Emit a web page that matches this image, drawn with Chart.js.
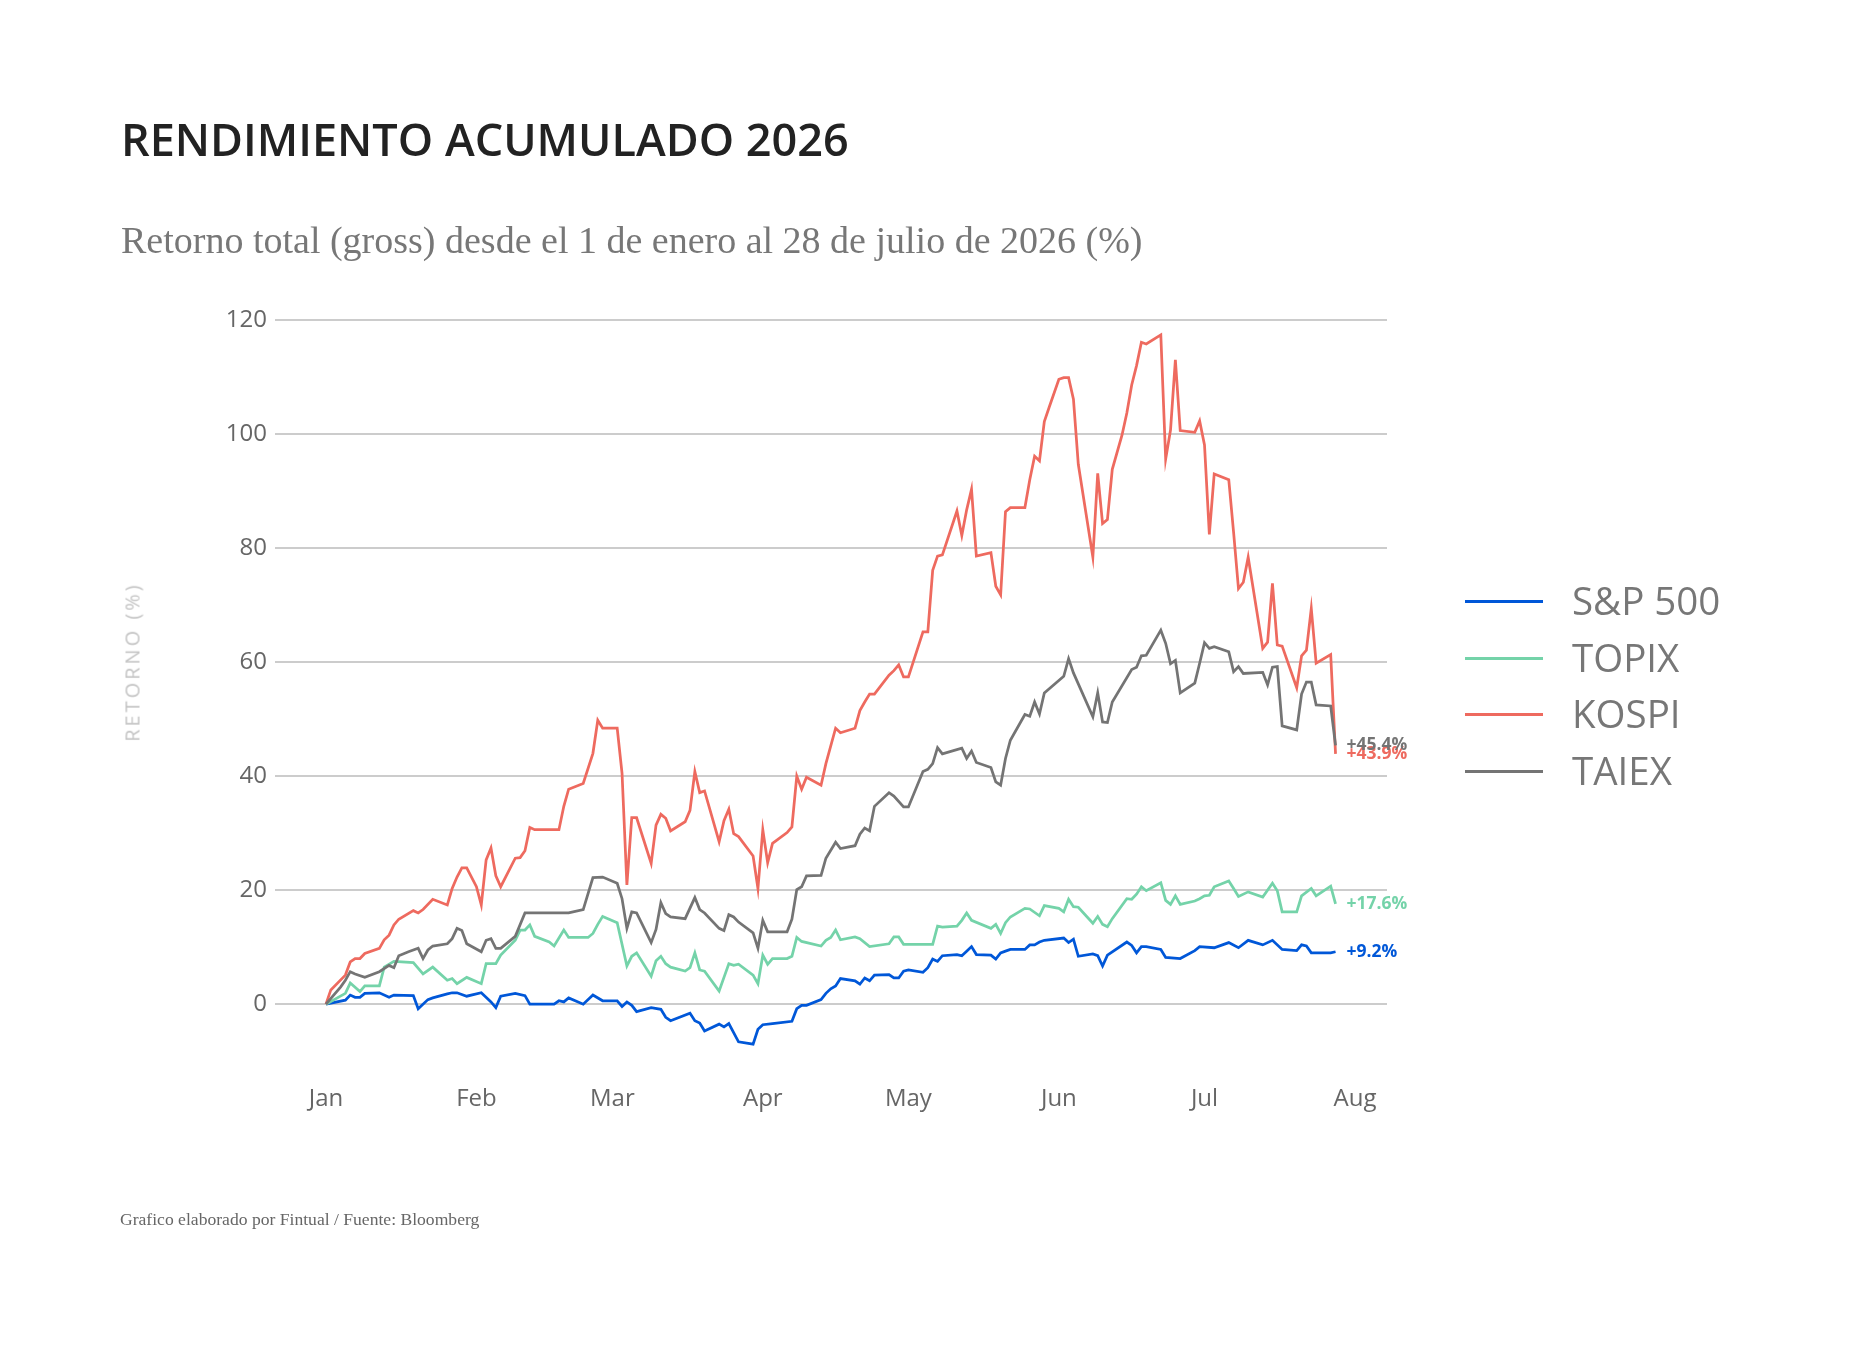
<!DOCTYPE html>
<html lang="es">
<head>
<meta charset="utf-8">
<title>Rendimiento acumulado 2026</title>
<script src="https://cdn.jsdelivr.net/npm/chart.js@4.4.1/dist/chart.umd.min.js"></script>
<style>
    html, body { margin: 0; padding: 0; background: #fff; }
    #page { position: relative; width: 1860px; height: 1349px; overflow: hidden; }
    #chart { position: absolute; left: 0; top: 0; }
    .txt { position: absolute; white-space: nowrap; line-height: 1; }
    #title { left: 121px; top: 108px; font: 600 45px "Open Sans", sans-serif; color: #222; }
    #subtitle { left: 121px; top: 218px; font: 400 38px "Liberation Serif", serif; color: #777; }
    #source { left: 120px; top: 1209px; font: 400 17.6px "Liberation Serif", serif; color: #666; }
    #ytitle {
        left: 132px; top: 662px; font: 400 20px "Open Sans", sans-serif; color: #c4c4c4;
        letter-spacing: 3px; transform: translate( -50%, -50% ) rotate( -90deg );
    }
    #legend { position: absolute; left: 1465px; top: 0; }
    .item { position: absolute; left: 0; width: 400px; height: 0; }
    .item i { position: absolute; left: 0; top: -1.5px; width: 78px; height: 3px; }
    .item span { position: absolute; left: 107px; top: -20px; font: 400 38.5px "Open Sans", sans-serif; color: #777; line-height: 1; white-space: nowrap; }
</style>
</head>
<body>
<div id="page">
    <canvas id="chart" width="1860" height="1349"></canvas>
    <div id="title" class="txt">RENDIMIENTO ACUMULADO 2026</div>
    <div id="subtitle" class="txt">Retorno total (gross) desde el 1 de enero al 28 de julio de 2026 (%)</div>
    <div id="ytitle" class="txt">RETORNO (%)</div>
    <div id="source" class="txt">Grafico elaborado por Fintual / Fuente: Bloomberg</div>
    <div id="legend"></div>
</div>
<script>

// Days since 1 Jan 2026 for each reading, and the cumulative return (%)

const spxDays = [
    0, 4, 5, 6, 7, 8, 11, 13, 14, 18,
    19, 21, 22, 25, 26, 27, 29, 32, 34, 35,
    36, 39, 41, 42, 47, 48, 49, 50, 53, 55,
    57, 60, 61, 62, 63, 64, 67, 69, 70, 71,
    75, 76, 77, 78, 81, 82, 83, 85, 88, 89,
    90, 92, 96, 97, 98, 99, 102, 103, 104, 105,
    106, 109, 110, 111, 112, 113, 116, 117, 118, 119,
    120, 123, 124, 125, 126, 127, 130, 131, 132, 133,
    134, 137, 138, 139, 140, 141, 144, 145, 146, 147,
    148, 152, 153, 154, 155, 158, 159, 160, 161, 165,
    166, 167, 168, 169, 172, 173, 176, 179, 180, 183,
    186, 188, 190, 193, 195, 197, 200, 201, 202, 203,
    207, 208
];
const spxValues = [
    0, 0.7, 1.6, 1.2, 1.2, 1.9, 2.0, 1.2, 1.6, 1.5,
    -0.8, 0.8, 1.1, 1.8, 2.0, 2.0, 1.4, 2.0, 0.4, -0.6,
    1.4, 1.9, 1.5, 0, 0, 0.6, 0.4, 1.1, 0, 1.6,
    0.6, 0.6, -0.4, 0.4, -0.2, -1.3, -0.6, -0.9, -2.3, -2.9,
    -1.6, -2.9, -3.3, -4.7, -3.5, -4.0, -3.4, -6.6, -7.0, -4.4,
    -3.6, -3.4, -3.0, -0.8, -0.2, -0.2, 0.8, 1.9, 2.7, 3.2,
    4.5, 4.1, 3.5, 4.6, 4.1, 5.1, 5.2, 4.6, 4.6, 5.8,
    6.0, 5.6, 6.4, 7.9, 7.5, 8.5, 8.7, 8.5, 9.3, 10.1,
    8.7, 8.6, 7.9, 9.0, 9.3, 9.6, 9.6, 10.4, 10.4, 10.9,
    11.2, 11.6, 10.8, 11.4, 8.4, 8.8, 8.5, 6.7, 8.6, 10.9,
    10.3, 9.0, 10.1, 10.1, 9.6, 8.2, 8.0, 9.4, 10.1, 9.9,
    10.8, 9.9, 11.2, 10.4, 11.2, 9.6, 9.4, 10.4, 10.2, 9.0,
    9.0, 9.2
];

const topixDays = [
    0, 4, 5, 7, 8, 11, 12, 14, 18, 20,
    22, 25, 26, 27, 29, 32, 33, 35, 36, 39,
    40, 41, 42, 43, 46, 47, 49, 50, 54, 55,
    56, 57, 60, 62, 63, 64, 67, 68, 69, 70,
    71, 74, 75, 76, 77, 78, 81, 82, 83, 84,
    85, 88, 89, 90, 91, 92, 95, 96, 97, 98,
    102, 103, 104, 105, 106, 109, 110, 112, 116, 117,
    118, 119, 125, 126, 127, 130, 131, 132, 133, 137,
    138, 139, 140, 141, 144, 145, 147, 148, 151, 152,
    153, 154, 155, 158, 159, 160, 161, 162, 165, 166,
    167, 168, 169, 172, 173, 174, 175, 176, 179, 180,
    181, 182, 183, 186, 187, 188, 190, 193, 195, 196,
    197, 200, 201, 203, 204, 207, 208
];
const topixValues = [
    0, 1.9, 3.7, 2.2, 3.2, 3.2, 6.5, 7.5, 7.3, 5.3,
    6.5, 4.2, 4.5, 3.6, 4.7, 3.6, 7.1, 7.1, 8.6, 11.2,
    13.0, 13.0, 13.9, 11.9, 10.9, 10.2, 13.0, 11.7, 11.7, 12.4,
    14.0, 15.4, 14.3, 6.7, 8.4, 9.0, 4.9, 7.6, 8.4, 7.1,
    6.5, 5.8, 6.4, 9.0, 6.0, 5.8, 2.3, 4.7, 7.1, 6.8,
    7.0, 5.1, 3.6, 8.6, 7.0, 8.0, 8.0, 8.4, 11.7, 11.0,
    10.2, 11.2, 11.7, 13.0, 11.3, 11.8, 11.5, 10.1, 10.6, 11.8,
    11.8, 10.5, 10.5, 13.7, 13.5, 13.7, 14.7, 16.0, 14.7, 13.3,
    14.0, 12.4, 14.3, 15.3, 16.8, 16.7, 15.5, 17.3, 16.8, 16.2,
    18.4, 17.1, 17.0, 14.2, 15.4, 14.0, 13.6, 15.0, 18.5, 18.4,
    19.3, 20.6, 19.9, 21.3, 18.2, 17.5, 19.0, 17.5, 18.1, 18.5,
    19.0, 19.1, 20.6, 21.6, 20.3, 18.9, 19.7, 18.8, 21.2, 19.9,
    16.2, 16.2, 19.0, 20.3, 19.0, 20.7, 17.6
];

const kospiDays = [
    0, 1, 4, 5, 6, 7, 8, 11, 12, 13,
    14, 15, 18, 19, 20, 22, 25, 26, 27, 28,
    29, 31, 32, 33, 34, 35, 36, 39, 40, 41,
    42, 43, 48, 49, 50, 53, 55, 56, 57, 60,
    61, 62, 63, 64, 67, 68, 69, 70, 71, 74,
    75, 76, 77, 78, 81, 82, 83, 84, 85, 88,
    89, 90, 91, 92, 95, 96, 97, 98, 99, 102,
    103, 105, 106, 109, 110, 111, 112, 113, 116, 117,
    118, 119, 120, 123, 124, 125, 126, 127, 130, 131,
    132, 133, 134, 137, 138, 139, 140, 141, 144, 145,
    146, 147, 148, 149, 151, 152, 153, 154, 155, 158,
    159, 160, 161, 162, 164, 165, 166, 167, 168, 169,
    172, 173, 174, 175, 176, 179, 180, 181, 182, 183,
    186, 187, 188, 189, 190, 193, 194, 195, 196, 197,
    200, 201, 202, 203, 204, 207, 208
];
const kospiValues = [
    0, 2.5, 5.1, 7.4, 8.0, 8.0, 8.9, 9.8, 11.3, 12.1,
    13.9, 14.9, 16.4, 16.0, 16.6, 18.4, 17.4, 20.3, 22.3, 23.9,
    23.9, 20.6, 17.4, 25.3, 27.4, 22.5, 20.6, 25.6, 25.7, 26.9,
    31.0, 30.6, 30.6, 34.7, 37.7, 38.7, 44.0, 49.8, 48.4, 48.4,
    40.5, 20.9, 32.7, 32.7, 24.7, 31.4, 33.3, 32.6, 30.4, 32.0,
    34.0, 40.8, 37.1, 37.4, 28.5, 32.2, 34.2, 29.9, 29.4, 26.0,
    20.3, 30.6, 24.8, 28.2, 30.1, 31.1, 40.0, 37.7, 39.8, 38.4,
    42.2, 48.4, 47.6, 48.4, 51.5, 53.0, 54.4, 54.4, 57.7, 58.5,
    59.5, 57.4, 57.4, 65.3, 65.3, 76.1, 78.6, 78.8, 86.5, 82.2,
    86.7, 90.3, 78.6, 79.2, 73.3, 71.8, 86.4, 87.1, 87.1, 92.0,
    96.1, 95.3, 102.2, 104.7, 109.6, 109.9, 109.9, 106.1, 94.7, 78.4,
    93.1, 84.3, 85.0, 93.8, 99.8, 103.7, 108.6, 112.0, 116.1, 115.8,
    117.4, 95.6, 100.7, 113.0, 100.6, 100.3, 102.3, 98.1, 82.4, 93.0,
    92.0, 82.7, 72.9, 74.0, 78.4, 62.4, 63.5, 73.8, 63.0, 62.8,
    55.5, 61.1, 62.1, 69.4, 59.8, 61.3, 43.9
];

const taiexDays = [
    0, 3, 4, 5, 6, 8, 11, 13, 14, 15,
    17, 19, 20, 21, 22, 25, 26, 27, 28, 29,
    32, 33, 34, 35, 36, 39, 41, 50, 53, 55,
    57, 60, 61, 62, 63, 64, 67, 68, 69, 70,
    71, 74, 76, 77, 78, 81, 82, 83, 84, 85,
    88, 89, 90, 91, 95, 96, 97, 98, 99, 102,
    103, 105, 106, 109, 110, 111, 112, 113, 116, 117,
    119, 120, 123, 124, 125, 126, 127, 131, 132, 133,
    134, 137, 138, 139, 140, 141, 144, 145, 146, 147,
    148, 152, 153, 154, 158, 159, 160, 161, 162, 166,
    167, 168, 169, 172, 173, 174, 175, 176, 179, 180,
    181, 182, 183, 186, 187, 188, 189, 193, 194, 195,
    196, 197, 200, 201, 202, 203, 204, 207, 208
];
const taiexValues = [
    0, 3.0, 4.2, 5.7, 5.3, 4.7, 5.7, 6.8, 6.4, 8.5,
    9.2, 9.8, 8.0, 9.5, 10.2, 10.6, 11.5, 13.3, 12.9, 10.6,
    9.2, 11.2, 11.5, 9.8, 9.8, 11.9, 16.0, 16.0, 16.6, 22.2,
    22.3, 21.2, 18.5, 13.3, 16.2, 16.0, 10.8, 13.1, 17.8, 15.9,
    15.3, 15.0, 18.7, 16.6, 16.0, 13.3, 12.9, 15.7, 15.3, 14.4,
    12.5, 9.8, 14.7, 12.7, 12.7, 14.9, 20.1, 20.6, 22.5, 22.6,
    25.6, 28.4, 27.3, 27.8, 29.8, 30.9, 30.4, 34.7, 37.1, 36.5,
    34.6, 34.6, 40.8, 41.2, 42.2, 45.0, 43.9, 44.9, 43.1, 44.4,
    42.4, 41.5, 39.0, 38.4, 43.1, 46.3, 50.8, 50.5, 53.0, 50.9,
    54.6, 57.5, 60.6, 58.1, 50.4, 54.6, 49.5, 49.4, 53.0, 58.7,
    59.1, 61.1, 61.2, 65.6, 63.3, 59.7, 60.3, 54.6, 56.3, 59.8,
    63.4, 62.4, 62.7, 61.8, 58.3, 59.2, 58.0, 58.2, 56.0, 59.1,
    59.2, 48.8, 48.1, 54.4, 56.5, 56.5, 52.5, 52.3, 45.4
];

const seriesNames = [ 'S&P 500', 'TOPIX', 'KOSPI', 'TAIEX' ];
const seriesColors = [ '#0057d8', '#74d3a9', '#ee6a5f', '#747474' ];
const seriesDays = [ spxDays, topixDays, kospiDays, taiexDays ];
const seriesValues = [ spxValues, topixValues, kospiValues, taiexValues ];

// Month ticks: first day of each month, counted from 1 Jan
const monthDays = [ 0, 31, 59, 90, 120, 151, 181, 212 ];
const monthLabels = [ 'Jan', 'Feb', 'Mar', 'Apr', 'May', 'Jun', 'Jul', 'Aug' ];
const yTicks = [ 0, 20, 40, 60, 80, 100, 120 ];

const FONT = '"Open Sans", sans-serif';

/**
 * Writes the last value of each line just right of its end point.
 */
const endLabels = {
    id: 'endLabels',
    afterDatasetsDraw ( chart ) {

        const ctx = chart.ctx;

        ctx.save();
        ctx.font = `700 17.5px ${FONT}`;
        ctx.textBaseline = 'middle';
        ctx.textAlign = 'left';

        // draw in legend order so TAIEX ends up on top, like the original
        seriesNames.forEach( ( name, i ) => {

            const meta = chart.getDatasetMeta( i );
            const pt = meta.data[ meta.data.length - 1 ];
            const vals = seriesValues[ i ];
            const v = vals[ vals.length - 1 ];

            ctx.fillStyle = seriesColors[ i ];
            ctx.fillText( ( v >= 0 ? '+' : '' ) + v.toFixed( 1 ) + '%', pt.x + 11, pt.y );

        } );

        ctx.restore();

    }
};

new Chart( document.getElementById( 'chart' ).getContext( '2d' ), {
    type: 'line',
    data: {
        datasets: seriesNames.map( ( name, i ) => ( {
            label: name,
            data: seriesDays[ i ].map( ( d, j ) => ( { x: d, y: seriesValues[ i ][ j ] } ) ),
            borderColor: seriesColors[ i ],
            backgroundColor: seriesColors[ i ],
            borderWidth: 2.75,
            pointRadius: 0,
            tension: 0,
            fill: false,
            order: seriesNames.length - i
        } ) )
    },
    options: {
        responsive: false,
        animation: false,
        devicePixelRatio: 1,
        layout: { padding: { left: 0, top: 320, right: 473, bottom: 205 } },
        plugins: {
            legend: { display: false },
            tooltip: { enabled: false }
        },
        scales: {
            x: {
                type: 'linear',
                min: -10.5,
                max: 218.6,
                afterBuildTicks: axis => { axis.ticks = monthDays.map( v => ( { value: v } ) ); },
                afterFit: axis => { axis.height = 60; },
                grid: { display: false, drawTicks: false },
                border: { display: false },
                ticks: {
                    autoSkip: false,
                    maxRotation: 0,
                    padding: 1,
                    color: '#666',
                    font: { family: FONT, size: 24 },
                    callback: v => monthLabels[ monthDays.indexOf( v ) ] ?? ''
                }
            },
            y: {
                min: -14,
                max: 120,
                afterBuildTicks: axis => { axis.ticks = yTicks.map( v => ( { value: v } ) ); },
                afterFit: axis => { axis.width = 275; },
                grid: { color: '#cccccc', lineWidth: 2, drawTicks: false },
                border: { display: false },
                ticks: {
                    padding: 8,
                    color: '#666',
                    font: { family: FONT, size: 24 }
                }
            }
        }
    },
    plugins: [ endLabels ]
} );

// Legend, one line marker + name per series
const legend = document.getElementById( 'legend' );
const legendY = [ 601, 658, 714, 771 ];

seriesNames.forEach( ( name, i ) => {

    const item = document.createElement( 'div' );
    item.className = 'item';
    item.style.top = legendY[ i ] + 'px';
    item.innerHTML = `<i style="background:${seriesColors[ i ]}"></i><span></span>`;
    item.querySelector( 'span' ).textContent = name;
    legend.appendChild( item );

} );

</script>
</body>
</html>
